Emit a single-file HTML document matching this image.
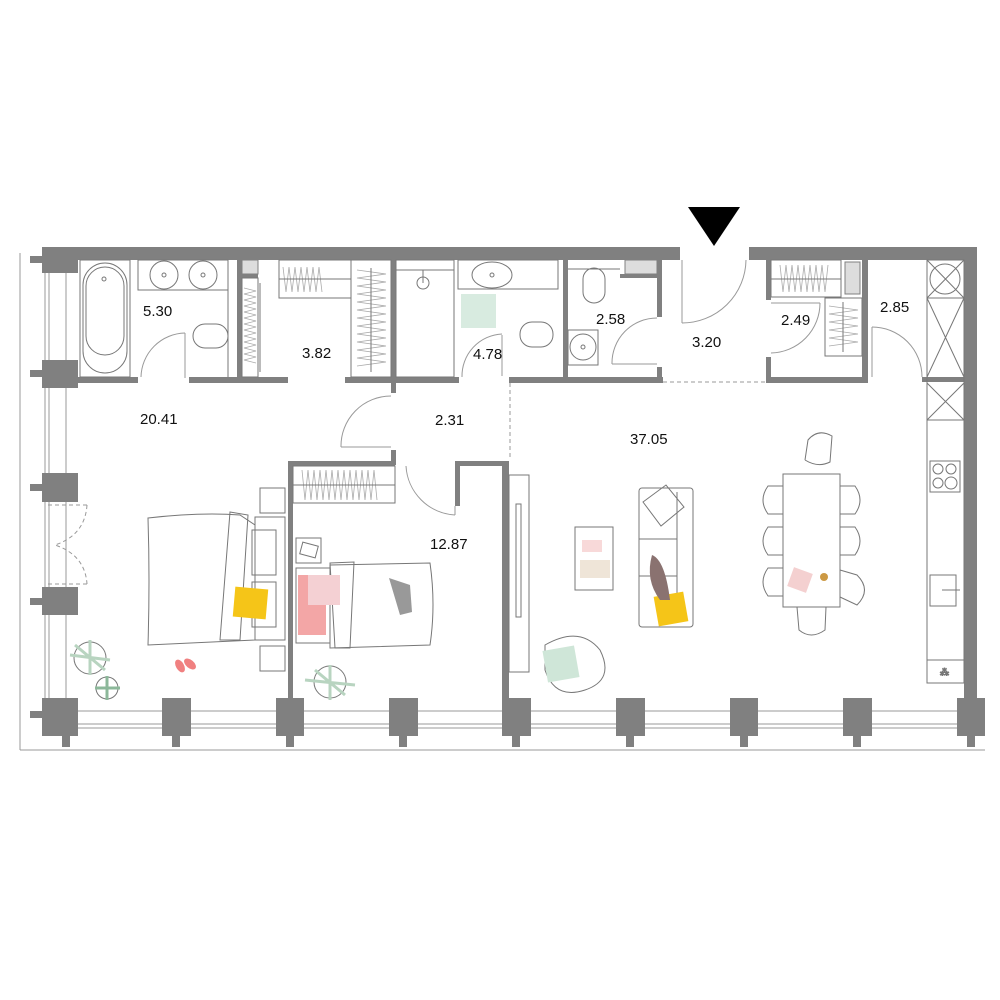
<!DOCTYPE html>
<html><head><meta charset="utf-8"><style>
html,body{margin:0;padding:0;background:#fff}
svg{display:block}
text{font-family:"Liberation Sans",sans-serif;font-size:15px;fill:#111}
</style></head><body>
<svg width="1000" height="1000" viewBox="0 0 1000 1000" xmlns="http://www.w3.org/2000/svg">
<g fill="none" stroke="#999" stroke-width="1">
<line x1="20" y1="253" x2="20" y2="750"/>
<line x1="45" y1="273" x2="45" y2="698"/>
<line x1="49" y1="273" x2="49" y2="698"/>
<line x1="66" y1="273" x2="66" y2="698"/>
<line x1="20" y1="750" x2="985" y2="750"/>
<line x1="78" y1="711" x2="963" y2="711"/>
<line x1="42" y1="724" x2="985" y2="724"/>
<line x1="42" y1="728" x2="985" y2="728"/>
</g>
<g fill="#808080">
<rect x="78" y="247" width="602" height="13"/>
<rect x="749" y="247" width="228" height="13"/>
<rect x="964" y="247" width="13" height="451"/>
<rect x="42" y="247" width="36" height="26"/><rect x="30" y="256" width="12" height="7"/>
<rect x="42" y="360" width="36" height="28"/><rect x="30" y="370" width="12" height="7"/>
<rect x="42" y="473" width="36" height="29"/><rect x="30" y="484" width="12" height="7"/>
<rect x="42" y="587" width="36" height="28"/><rect x="30" y="598" width="12" height="7"/>
<rect x="42" y="698" width="36" height="38"/><rect x="30" y="711" width="12" height="7"/><rect x="62" y="736" width="8" height="11"/>
<rect x="162" y="698" width="29" height="38"/><rect x="172" y="736" width="8" height="11"/>
<rect x="276" y="698" width="28" height="38"/><rect x="286" y="736" width="8" height="11"/>
<rect x="389" y="698" width="29" height="38"/><rect x="399" y="736" width="8" height="11"/>
<rect x="502" y="698" width="29" height="38"/><rect x="512" y="736" width="8" height="11"/>
<rect x="616" y="698" width="29" height="38"/><rect x="626" y="736" width="8" height="11"/>
<rect x="730" y="698" width="28" height="38"/><rect x="740" y="736" width="8" height="11"/>
<rect x="843" y="698" width="29" height="38"/><rect x="853" y="736" width="8" height="11"/>
<rect x="957" y="698" width="28" height="38"/><rect x="967" y="736" width="8" height="11"/>
<rect x="78" y="377" width="60" height="6"/>
<rect x="189" y="377" width="99" height="6"/>
<rect x="345" y="377" width="114" height="6"/>
<rect x="509" y="377" width="154" height="6"/>
<rect x="766" y="377" width="102" height="6"/>
<rect x="922" y="377" width="43" height="5"/>
<rect x="237" y="260" width="5" height="117"/>
<rect x="242" y="274" width="16" height="4"/>
<rect x="391" y="260" width="5" height="133"/>
<rect x="391" y="450" width="5" height="15"/>
<rect x="563" y="260" width="5" height="117"/>
<rect x="657" y="260" width="5" height="57"/><rect x="657" y="367" width="5" height="10"/>
<rect x="620" y="274" width="37" height="4"/>
<rect x="766" y="260" width="5" height="40"/><rect x="766" y="357" width="5" height="20"/>
<rect x="862" y="260" width="6" height="117"/>
<rect x="288" y="461" width="107" height="5"/>
<rect x="460" y="461" width="48" height="5"/>
<rect x="288" y="461" width="5" height="237"/>
<rect x="502" y="461" width="7" height="237"/>
<rect x="455" y="461" width="5" height="45"/>
</g>
<g fill="#ddd" stroke="#808080" stroke-width="1">
<rect x="242" y="260" width="16" height="14"/>
<rect x="625" y="260" width="32" height="14"/>
<rect x="845" y="262" width="15" height="32"/>
</g>
<polygon points="688,207 740,207 714,246" fill="#000"/>
<g fill="none" stroke="#999" stroke-width="1">
<line x1="185" y1="333" x2="185" y2="378"/><path d="M185,333 A45,45 0 0 0 141,377"/>
<line x1="341" y1="447" x2="391" y2="447"/><path d="M391,396 A50,50 0 0 0 341,447"/>
<line x1="502" y1="335" x2="502" y2="376"/><path d="M502,334 A42,42 0 0 0 462,377"/>
<line x1="612" y1="364" x2="657" y2="364"/><path d="M657,318 A45,45 0 0 0 612,364"/>
<line x1="682" y1="260" x2="682" y2="323"/><path d="M682,323 A64,64 0 0 0 746,260"/>
<line x1="771" y1="303" x2="820" y2="303"/><path d="M820,303 A50,50 0 0 1 771,353"/>
<line x1="872" y1="327" x2="872" y2="377"/><path d="M872,327 A50,50 0 0 1 922,377"/>
<path d="M406,466 A52,52 0 0 0 455,515"/><line x1="455" y1="506" x2="455" y2="515"/>
<line x1="663" y1="382" x2="766" y2="382" stroke-dasharray="4,3"/>
<line x1="510" y1="383" x2="510" y2="460" stroke-dasharray="4,3"/>
<g stroke-dasharray="4,3"><line x1="48" y1="505" x2="87" y2="505"/><line x1="48" y1="584" x2="87" y2="584"/>
<path d="M87,505 Q85,535 55,545 Q85,555 87,584"/></g>
</g>
<!-- hangers -->
<g fill="none" stroke="#aaa" stroke-width="0.8">
<path d="M244,288 L256,291 L244,294 L256,297 L244,300 L256,303 L244,306 L256,309 L244,312 L256,315 L244,318 L256,321 L244,324 L256,327 L244,330 L256,333 L244,336 L256,339 L244,342 L256,345 L244,348 L256,351 L244,354 L256,357 L244,360 L256,363"/>
<path d="M283,267 L286,292 L289,267 L292,292 L295,267 L298,292 L301,267 L304,292 L307,267 L310,292 L313,267 L316,292 L319,267 L322,292"/>
<path d="M357,270 L386,274 L357,278 L386,282 L357,286 L386,290 L357,294 L386,298 L357,302 L386,306 L357,310 L386,314 L357,318 L386,322 L357,326 L386,330 L357,334 L386,338 L357,342 L386,346 L357,350 L386,354 L357,358 L386,362 L357,366"/>
<path d="M302,470 L305,500 L308,470 L311,500 L314,470 L317,500 L320,470 L323,500 L326,470 L329,500 L332,470 L335,500 L338,470 L341,500 L344,470 L347,500 L350,470 L353,500 L356,470 L359,500 L362,470 L365,500 L368,470 L371,500 L374,470 L377,500"/>
<path d="M780,265 L783,292 L786,265 L789,292 L792,265 L795,292 L798,265 L801,292 L804,265 L807,292 L810,265 L813,292 L816,265 L819,292 L822,265 L825,292 L828,265"/>
<path d="M829,306 L858,310 L829,314 L858,318 L829,322 L858,326 L829,330 L858,334 L829,338 L858,342 L829,346"/>
</g>
<g fill="none" stroke="#777" stroke-width="1">
<rect x="80" y="260" width="50" height="117"/>
<rect x="83" y="263" width="44" height="110" rx="22"/>
<rect x="86" y="267" width="38" height="88" rx="19"/>
<circle cx="104" cy="279" r="2"/>
<line x1="130" y1="320" x2="130" y2="377"/>
<rect x="138" y="260" width="90" height="30"/>
<circle cx="164" cy="275" r="14"/><circle cx="164" cy="275" r="2"/>
<circle cx="203" cy="275" r="14"/><circle cx="203" cy="275" r="2"/>
<rect x="193" y="324" width="35" height="24" rx="12"/>
<line x1="228" y1="260" x2="228" y2="377"/>
<rect x="242" y="278" width="16" height="99"/>
<line x1="260" y1="283" x2="260" y2="372"/>
<rect x="279" y="260" width="72" height="38"/>
<line x1="279" y1="279" x2="351" y2="279"/>
<rect x="351" y="260" width="40" height="117"/>
<line x1="371" y1="268" x2="371" y2="372"/>
<rect x="293" y="466" width="102" height="37"/>
<line x1="293" y1="485" x2="395" y2="485"/>
<rect x="771" y="260" width="70" height="37"/>
<line x1="771" y1="279" x2="841" y2="279"/>
<rect x="825" y="298" width="37" height="58"/>
<line x1="843" y1="302" x2="843" y2="352"/>
<rect x="396" y="260" width="58" height="117"/>
<line x1="396" y1="270" x2="454" y2="270"/>
<circle cx="423" cy="283" r="6"/><line x1="423" y1="270" x2="423" y2="283"/>
<rect x="458" y="260" width="100" height="29"/>
<ellipse cx="492" cy="275" rx="20" ry="13"/><circle cx="492" cy="275" r="2"/>
<rect x="520" y="322" width="33" height="25" rx="12"/>
<rect x="583" y="268" width="22" height="35" rx="11"/>
<line x1="568" y1="269" x2="620" y2="269"/>
<rect x="568" y="330" width="30" height="35"/><circle cx="583" cy="347" r="13"/><circle cx="583" cy="347" r="2"/>
<rect x="927" y="260" width="37" height="423"/>
<line x1="927" y1="298" x2="964" y2="298"/><line x1="927" y1="420" x2="964" y2="420"/><line x1="927" y1="660" x2="964" y2="660"/>
<circle cx="945" cy="279" r="15"/><path d="M927,260 L964,298 M964,260 L927,298 M927,298 L964,377 M964,298 L927,377 M927,383 L964,420 M964,383 L927,420"/>
<rect x="930" y="461" width="30" height="31"/>
<circle cx="938" cy="469" r="5"/><circle cx="951" cy="469" r="5"/><circle cx="938" cy="483" r="5"/><circle cx="951" cy="483" r="6"/>
<rect x="930" y="575" width="26" height="31"/><line x1="942" y1="590" x2="960" y2="590"/>
<text x="940" y="675" style="font-size:9px;fill:#555">⁂</text>
<rect x="509" y="475" width="20" height="197"/><rect x="516" y="504" width="5" height="113"/>
<rect x="575" y="527" width="38" height="63"/>
<rect x="639" y="488" width="54" height="139" rx="3"/>
<line x1="677" y1="492" x2="677" y2="623"/><line x1="639" y1="539" x2="677" y2="539"/><line x1="639" y1="576" x2="677" y2="576"/>
<polygon points="643,502 666,485 684,507 661,526"/>
<rect x="783" y="474" width="57" height="133"/>
<g>
<path d="M783,486 L768,486 Q758,500 768,514 L783,514"/><path d="M783,527 L768,527 Q758,541 768,555 L783,555"/><path d="M783,568 L768,568 Q758,582 768,596 L783,596"/>
<path d="M840,486 L855,486 Q865,500 855,514 L840,514"/><path d="M840,527 L855,527 Q865,541 855,555 L840,555"/><path d="M840,570 L857,575 Q872,590 857,605 L840,597"/>
<path d="M797,607 L799,630 Q811,640 825,630 L826,607"/>
<path d="M805,460 L808,440 Q818,428 832,436 L830,462 Q818,468 805,460"/>
</g>
<path d="M148,518 Q200,512 240,515 L255,525 L255,640 L148,645 Q150,580 148,518 Z"/>
<path d="M230,512 L248,515 L240,640 L220,640 Z"/>
<rect x="255" y="517" width="30" height="123"/>
<rect x="252" y="530" width="24" height="45"/><rect x="252" y="582" width="24" height="45"/>
<rect x="260" y="488" width="25" height="25"/><rect x="260" y="646" width="25" height="25"/>
<path d="M330,565 L430,563 Q436,605 430,645 L330,648 Z"/>
<path d="M330,563 L354,562 L350,648 L335,648 Z"/>
<rect x="296" y="568" width="34" height="75"/>
<rect x="296" y="538" width="25" height="25"/>
<rect x="301" y="544" width="16" height="12" transform="rotate(15 309 550)"/>
<path d="M545,645 Q580,625 600,650 Q615,680 585,690 Q555,700 545,670 Z"/>
<circle cx="90" cy="658" r="16"/><circle cx="107" cy="688" r="11"/><circle cx="330" cy="682" r="16"/>
</g>
<g stroke="none">
<rect x="234" y="588" width="33" height="30" fill="#f5c518" transform="rotate(5 250 603)"/>
<rect x="298" y="575" width="28" height="60" fill="#f3a6a6"/>
<rect x="308" y="575" width="32" height="30" fill="#f4d0d3"/>
<rect x="656" y="594" width="30" height="30" fill="#f5c518" transform="rotate(-10 671 609)"/>
<path d="M652,555 Q665,560 670,600 L660,600 Q645,580 652,555 Z" fill="#8a7270"/>
<rect x="545" y="648" width="32" height="32" fill="#cfe6d8" transform="rotate(-10 561 664)"/>
<rect x="461" y="294" width="35" height="34" fill="#d8ebe0"/>
<path d="M389,578 L410,585 L412,612 L400,615 Z" fill="#999"/>
<circle cx="824" cy="577" r="4" fill="#c94"/>
<ellipse cx="180" cy="666" rx="4" ry="7" fill="#f08080" transform="rotate(-30 180 666)"/>
<ellipse cx="190" cy="664" rx="4" ry="7" fill="#f08080" transform="rotate(-50 190 664)"/>
<path d="M70,655 L110,660 M90,640 L90,675 M75,645 L105,670" stroke="#b8d4c0" stroke-width="3"/>
<path d="M95,688 L120,688 M107,676 L107,700" stroke="#8cb89a" stroke-width="3"/>
<path d="M305,680 L355,685 M330,665 L330,700 M315,670 L345,695" stroke="#b8d4c0" stroke-width="3"/>
<rect x="582" y="540" width="20" height="12" fill="#f4c0c0" opacity=".6"/>
<rect x="580" y="560" width="30" height="18" fill="#efe5d8"/>
<rect x="790" y="570" width="20" height="20" fill="#f4d0d0" transform="rotate(20 800 580)"/>
</g>
<text x="143" y="316">5.30</text>
<text x="302" y="358">3.82</text>
<text x="473" y="359">4.78</text>
<text x="596" y="324">2.58</text>
<text x="692" y="347">3.20</text>
<text x="781" y="325">2.49</text>
<text x="880" y="312">2.85</text>
<text x="140" y="424">20.41</text>
<text x="435" y="425">2.31</text>
<text x="630" y="444">37.05</text>
<text x="430" y="549">12.87</text>
</svg>
</body></html>
